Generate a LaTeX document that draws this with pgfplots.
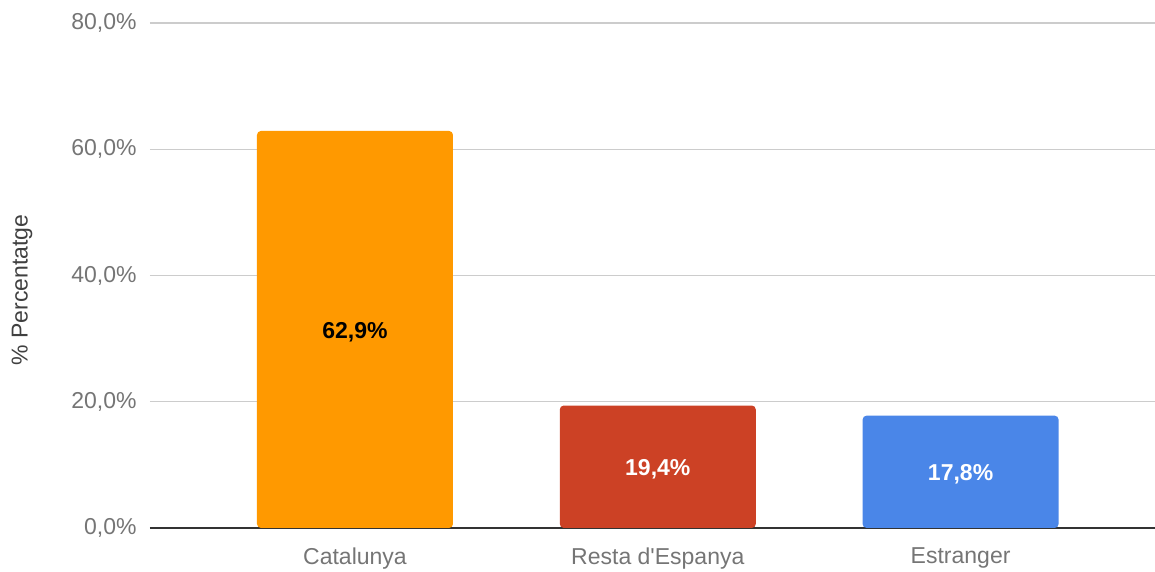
\documentclass[border=0pt]{standalone}
\usepackage{pgfplots}
\pgfplotsset{compat=1.18}
\usepackage{fontspec}
\setmainfont{Liberation Sans}[Ligatures=TeXOff]
\definecolor{corange}{HTML}{FF9900}
\definecolor{cred}{HTML}{CC4125}
\definecolor{cblue}{HTML}{4A86E8}
\definecolor{tickgray}{HTML}{757575}
\definecolor{gridgray}{HTML}{CCCCCC}
\begin{document}
\begin{tikzpicture}
\begin{axis}[
  scale only axis,
  width=502.5pt, height=252.5pt,
  xmin=-0.677, xmax=2.642,
  ymin=0, ymax=80,
  axis x line*=bottom,
  axis y line*=left,
  y axis line style={draw=none},
  x axis line style={draw=black!80, line width=1pt, -},
  major tick length=0pt,
  xtick={0,1,2},
  xticklabels={Catalunya,Resta d'Espanya,Estranger},
  ytick={0,20,40,60,80},
  yticklabels={{0,0\%},{20,0\%},{40,0\%},{60,0\%},{80,0\%}},
  ymajorgrids,
  grid style={draw=gridgray, line width=0.7pt},
  tick label style={font=\fontsize{11.5}{13}\selectfont, text=tickgray},
  yticklabel style={anchor=east, inner sep=0pt, xshift=-6.5pt},
  xticklabel style={anchor=north, inner sep=0pt, yshift=-9.5pt},
  ylabel={\% Percentatge},
  every axis y label/.style={at={(rel axis cs:-0.1274,0.471)}, anchor=center, rotate=90, font=\fontsize{11.5}{13}\selectfont, text=black!75},
  ybar, bar width=98pt, bar shift=0pt,
  clip=false,
]
\addplot[fill=corange, draw=none, rounded corners=2pt] coordinates {(0,62.9)};
\addplot[fill=cred, draw=none, rounded corners=2pt] coordinates {(1,19.4)};
\addplot[fill=cblue, draw=none, rounded corners=2pt] coordinates {(2,17.8)};
\addplot[draw=none, mark=none, nodes near coords, point meta=explicit symbolic,
  every node near coord/.append style={anchor=center, text=black, font=\bfseries\fontsize{11.5}{13}\selectfont}]
  coordinates {(0,31.0) [62,9\%]};
\addplot[draw=none, mark=none, nodes near coords, point meta=explicit symbolic,
  every node near coord/.append style={anchor=center, text=white, font=\bfseries\fontsize{11.5}{13}\selectfont}]
  coordinates {(1,9.3) [19,4\%] (2,8.5) [17,8\%]};
\coordinate (bl) at (rel axis cs:-0.14925,-0.08713);
\coordinate (tr) at (rel axis cs:1,1.04554);
\end{axis}
\pgfresetboundingbox
\path[use as bounding box] (bl) rectangle (tr);
\end{tikzpicture}
\end{document}
